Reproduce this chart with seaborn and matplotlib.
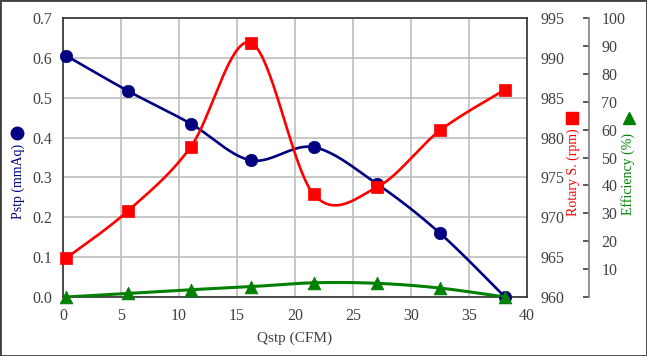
import numpy as np
import matplotlib
matplotlib.use("Agg")
import matplotlib.pyplot as plt
import seaborn as sns
from matplotlib.lines import Line2D
from matplotlib.patches import Rectangle

# values
qstp = [0.3, 5.6, 11.0, 16.2, 21.6, 27.1, 32.5, 38.1]
pstp = [0.605, 0.517, 0.435, 0.343, 0.376, 0.283, 0.160, 0.0]
rotary = [964.9, 970.8, 978.8, 991.9, 972.9, 973.8, 980.9, 986.0]
efficiency = [0.0, 1.3, 2.6, 3.7, 5.1, 4.9, 3.2, 0.0]

x_ticks = list(range(0, 41, 5))
p_ticks = [0.0, 0.1, 0.2, 0.3, 0.4, 0.5, 0.6, 0.7]
r_ticks = list(range(960, 996, 5))
e_ticks = list(range(0, 101, 10))

NAVY = "#000080"
RED = "#FF0000"
GREEN = "#008000"
TEXT = "#404040"

FIG_W, FIG_H = 647, 356
L, R, T, B = 63, 527, 18, 297
PW, PH = R - L, B - T


def smooth(xs, ys, lo, hi, n=40):
    """Excel-like smoothed line (Catmull-Rom as Bezier), built in screen space."""
    px = (np.asarray(xs, float) - x_ticks[0]) / (x_ticks[-1] - x_ticks[0]) * PW
    py = (np.asarray(ys, float) - lo) / (hi - lo) * PH
    pts = np.column_stack([px, py])
    ext = np.vstack([pts[0], pts, pts[-1]])
    t = np.linspace(0, 1, n)[:, None]
    out = []
    for i in range(len(pts) - 1):
        p0, p1, p2, p3 = ext[i], ext[i + 1], ext[i + 2], ext[i + 3]
        c1 = p1 + (p2 - p0) / 6
        c2 = p2 - (p3 - p1) / 6
        seg = (1 - t) ** 3 * p1 + 3 * (1 - t) ** 2 * t * c1 + 3 * (1 - t) * t ** 2 * c2 + t ** 3 * p2
        out.append(seg if i == 0 else seg[1:])
    out = np.vstack(out)
    sx = out[:, 0] / PW * (x_ticks[-1] - x_ticks[0]) + x_ticks[0]
    sy = out[:, 1] / PH * (hi - lo) + lo
    return sx, sy


def draw(ax, ys, lo, hi, color, marker, lw, size):
    sx, sy = smooth(qstp, ys, lo, hi)
    sns.lineplot(x=sx, y=sy, ax=ax, color=color, lw=lw, sort=False, estimator=None)
    sns.scatterplot(x=qstp, y=ys, ax=ax, color=color, marker=marker, s=size,
                    edgecolor=color, linewidth=0.5, zorder=5, clip_on=False)


sns.set_theme(style="white")
plt.rcParams["font.family"] = ["Liberation Serif", "DejaVu Serif"]
plt.rcParams["font.size"] = 11.5

fig = plt.figure(figsize=(FIG_W / 100, FIG_H / 100), dpi=100)
ax = fig.add_axes([L / FIG_W, 1 - B / FIG_H, PW / FIG_W, PH / FIG_H])
ax2 = ax.twinx()
ax3 = ax.twinx()

# main axis
ax.set_xlim(x_ticks[0], x_ticks[-1])
ax.set_ylim(p_ticks[0], p_ticks[-1])
ax.set_xticks(x_ticks)
ax.set_yticks(p_ticks)
ax.set_yticklabels([f"{v:.1f}" for v in p_ticks])
ax.grid(True, color="#bdbdbd", lw=1.2)
ax.tick_params(axis="both", length=0, pad=8, labelsize=11.5, labelcolor=TEXT)
for s in ax.spines.values():
    s.set_color("#303030")
    s.set_linewidth(1.2)

# rotary speed axis
ax2.set_ylim(r_ticks[0], r_ticks[-1])
ax2.set_yticks(r_ticks)
ax2.tick_params(axis="y", length=0, pad=10, labelsize=11.5, labelcolor=TEXT)
for s in ax2.spines.values():
    s.set_visible(False)

# efficiency axis
ax3.set_ylim(e_ticks[0], e_ticks[-1])
ax3.set_yticks(e_ticks)
ax3.set_yticklabels(["" if v == 0 else str(v) for v in e_ticks])
ax3.spines["right"].set_position(("axes", (589 - L) / PW))
for name, s in ax3.spines.items():
    s.set_visible(name == "right")
ax3.spines["right"].set_color("#808080")
ax3.spines["right"].set_linewidth(1.2)
ax3.tick_params(axis="y", direction="in", length=4, width=1.2, color="#404040",
                pad=9, labelsize=11.5, labelcolor=TEXT)

draw(ax, pstp, p_ticks[0], p_ticks[-1], NAVY, "o", 1.9, 80)
draw(ax2, rotary, r_ticks[0], r_ticks[-1], RED, "s", 1.9, 80)
draw(ax3, efficiency, e_ticks[0], e_ticks[-1], GREEN, "^", 2.2, 85)

ax.set_xlabel("")
ax.set_ylabel("")
ax2.set_ylabel("")
ax3.set_ylabel("")

# axis titles with their symbols
fig.text((L + R) / 2 / FIG_W, 1 - 338 / FIG_H, "Qstp (CFM)", ha="center", va="center",
         fontsize=11, color=TEXT)
fig.text(18 / FIG_W, 1 - 181 / FIG_H, "Pstp (mmAq)", rotation=90, ha="center", va="center",
         fontsize=10, color=NAVY)
fig.text(573 / FIG_W, 1 - 172 / FIG_H, "Rotary S. (rpm)", rotation=90, ha="center", va="center",
         fontsize=10, color=RED)
fig.text(628 / FIG_W, 1 - 174 / FIG_H, "Efficiency (%)", rotation=90, ha="center", va="center",
         fontsize=10, color=GREEN)
for x, y, m, c in [(17, 133, "o", NAVY), (572, 118, "s", RED), (629, 118, "^", GREEN)]:
    fig.add_artist(Line2D([x / FIG_W], [1 - y / FIG_H], marker=m, color=c, markersize=9,
                          transform=fig.transFigure))

fig.add_artist(Rectangle((0, 0), 1, 1, transform=fig.transFigure, fill=False,
                         edgecolor="#404040", lw=2))

fig.savefig("out.png", dpi=100)
